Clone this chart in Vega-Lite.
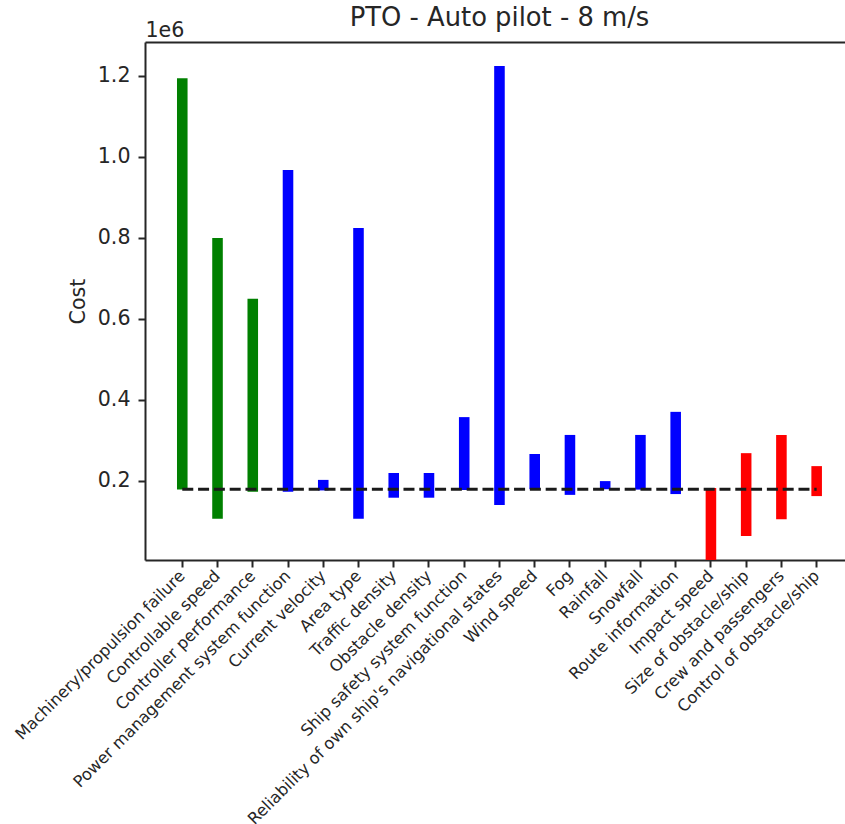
{
  "$schema": "https://vega.github.io/schema/vega-lite/v6.json",
  "width": 700,
  "height": 518,
  "autosize": {"type": "none"},
  "padding": {"left": 145, "top": 42, "right": 0, "bottom": 264},
  "background": "white",
  "config": {
    "view": {"stroke": null},
    "font": "DejaVu Sans",
    "axis": {
      "domainColor": "#262626",
      "domainWidth": 2,
      "tickColor": "#262626",
      "tickWidth": 2,
      "tickSize": 7,
      "labelColor": "#262626",
      "titleColor": "#262626",
      "labelFont": "DejaVu Sans",
      "titleFont": "DejaVu Sans",
      "titleFontWeight": "normal",
      "grid": false
    }
  },
  "title": {
    "text": "PTO - Auto pilot - 8 m/s",
    "font": "DejaVu Sans",
    "fontSize": 25.8,
    "fontWeight": "normal",
    "color": "#262626",
    "anchor": "middle",
    "dx": 4.5,
    "offset": -12
  },
  "datasets": {
    "bars": [
      {"factor": "Machinery/propulsion failure", "low": 178000, "high": 1194000, "group": "Own ship"},
      {"factor": "Controllable speed", "low": 106000, "high": 799000, "group": "Own ship"},
      {"factor": "Controller performance", "low": 173000, "high": 649000, "group": "Own ship"},
      {"factor": "Power management system function", "low": 173000, "high": 967000, "group": "Environment"},
      {"factor": "Current velocity", "low": 176000, "high": 202000, "group": "Environment"},
      {"factor": "Area type", "low": 106000, "high": 824000, "group": "Environment"},
      {"factor": "Traffic density", "low": 158000, "high": 219000, "group": "Environment"},
      {"factor": "Obstacle density", "low": 158000, "high": 219000, "group": "Environment"},
      {"factor": "Ship safety system function", "low": 177000, "high": 357000, "group": "Environment"},
      {"factor": "Reliability of own ship's navigational states", "low": 140000, "high": 1224000, "group": "Environment"},
      {"factor": "Wind speed", "low": 179000, "high": 266000, "group": "Environment"},
      {"factor": "Fog", "low": 165000, "high": 313000, "group": "Environment"},
      {"factor": "Rainfall", "low": 179000, "high": 199000, "group": "Environment"},
      {"factor": "Snowfall", "low": 178000, "high": 313000, "group": "Environment"},
      {"factor": "Route information", "low": 167000, "high": 370000, "group": "Environment"},
      {"factor": "Impact speed", "low": 4200, "high": 182000, "group": "Obstacle"},
      {"factor": "Size of obstacle/ship", "low": 63500, "high": 268000, "group": "Obstacle"},
      {"factor": "Crew and passengers", "low": 105000, "high": 313000, "group": "Obstacle"},
      {"factor": "Control of obstacle/ship", "low": 162000, "high": 236000, "group": "Obstacle"}
    ],
    "base": [
      {"from": "Machinery/propulsion failure", "to": "Control of obstacle/ship", "baseline": 179000}
    ]
  },
  "resolve": {"axis": {"x": "independent"}},
  "layer": [
    {
      "data": {"name": "bars"},
      "mark": {"type": "bar", "width": {"band": 0.3}},
      "encoding": {
        "x": {
          "field": "factor",
          "type": "nominal",
          "sort": null,
          "scale": {
            "domain": ["Machinery/propulsion failure", "Controllable speed", "Controller performance", "Power management system function", "Current velocity", "Area type", "Traffic density", "Obstacle density", "Ship safety system function", "Reliability of own ship's navigational states", "Wind speed", "Fog", "Rainfall", "Snowfall", "Route information", "Impact speed", "Size of obstacle/ship", "Crew and passengers", "Control of obstacle/ship"],
            "paddingInner": 0,
            "paddingOuter": 0.431,
            "align": 0.647
          },
          "axis": {
            "orient": "bottom",
            "title": null,
            "labelAngle": -45,
            "labelAlign": "right",
            "labelBaseline": "middle",
            "labelFontSize": 16.3,
            "labelPadding": 6,
            "labelLimit": 1000
          }
        },
        "y": {
          "field": "low",
          "type": "quantitative",
          "scale": {"domain": [4200, 1283200], "nice": false, "zero": false},
          "axis": {
            "title": "Cost",
            "titleFontSize": 20.6,
            "titlePadding": 9,
            "labelFontSize": 20.6,
            "labelPadding": 8,
            "values": [200000, 400000, 600000, 800000, 1000000, 1200000],
            "labelExpr": "format(datum.value / 1000000, '.1f')"
          }
        },
        "y2": {"field": "high"},
        "color": {
          "field": "group",
          "type": "nominal",
          "scale": {"domain": ["Own ship", "Environment", "Obstacle"], "range": ["#008000", "#0000ff", "#ff0000"]},
          "legend": null
        }
      }
    },
    {
      "data": {"name": "base"},
      "mark": {"type": "rule", "strokeWidth": 3, "strokeDash": [11, 4.8], "color": "#1a1a1a"},
      "encoding": {
        "x": {
          "field": "from",
          "type": "nominal",
          "bandPosition": 0.5,
          "axis": {
            "orient": "top",
            "labels": false,
            "ticks": false,
            "domain": true,
            "title": "1e6",
            "titleFontSize": 20.6,
            "titleAnchor": "start",
            "titleAlign": "left",
            "titleBaseline": "alphabetic",
            "titlePadding": 6
          }
        },
        "x2": {"field": "to", "bandPosition": 0.5},
        "y": {"field": "baseline", "type": "quantitative"}
      }
    }
  ]
}
